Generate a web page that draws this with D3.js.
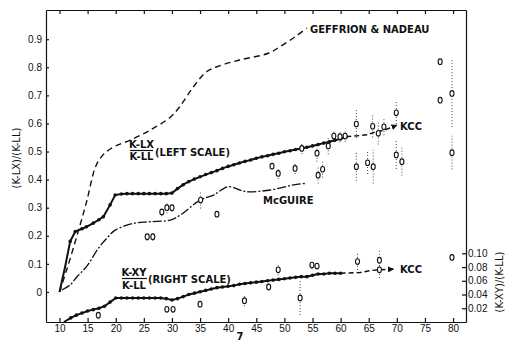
<!DOCTYPE html>
<html>
<head>
<meta charset="utf-8">
<script src="https://cdn.jsdelivr.net/npm/d3@7"></script>
<style>
  body { margin: 0; background: #fff; }
  svg { display: block; font-family: 'DejaVu Sans', sans-serif; }
  .axis path, .axis line { stroke: #111; stroke-width: 1.2; }
  .axis text { font-size: 10px; fill: #111; }
  .lbl { font-size: 10px; fill: #111; font-weight: bold; }
</style>
</head>
<body>
<div id="chart"></div>
<script>
// x ticks (bottom / top), left and right tick values
var xTicks = [10, 15, 20, 25, 30, 35, 40, 45, 50, 55, 60, 65, 70, 75, 80];
var leftTicks = [0, 0.1, 0.2, 0.3, 0.4, 0.5, 0.6, 0.7, 0.8, 0.9];
var rightTicks = [0.02, 0.04, 0.06, 0.08, 0.10];

// Geffrion & Nadeau (left scale, dashed)
var gnX = [10, 11.3, 13.1, 14.8, 16.3, 17.2, 18.4, 20, 22.5, 26, 29.7, 31.4, 33.8, 36.2, 38, 42, 47, 49.2, 52, 54];
var gnY = [0, 0.08, 0.2, 0.32, 0.44, 0.475, 0.5, 0.52, 0.54, 0.575, 0.622, 0.66, 0.73, 0.785, 0.802, 0.826, 0.849, 0.873, 0.91, 0.94];

// KCC (R-LX)/(K-LL), left scale, solid with dots
var kccX = [10, 11, 11.9, 12.8, 14, 14.8, 16, 17, 17.8, 19, 19.9, 21, 22, 23, 24, 25, 26, 27, 28, 29, 30,
  31, 32, 33, 34, 35, 36, 37, 38, 39, 40, 41, 42, 43, 44, 45, 46, 47, 48, 49, 50, 51, 52, 53, 54, 55,
  56, 57, 58, 59, 60, 61];
var kccY = [0, 0.09, 0.18, 0.215, 0.225, 0.232, 0.245, 0.257, 0.268, 0.31, 0.345, 0.349, 0.35, 0.35, 0.35,
  0.35, 0.35, 0.35, 0.35, 0.35, 0.352, 0.368, 0.382, 0.393, 0.402, 0.41, 0.418, 0.425, 0.432, 0.44, 0.447,
  0.453, 0.459, 0.465, 0.47, 0.476, 0.481, 0.485, 0.49, 0.494, 0.499, 0.503, 0.507, 0.511, 0.515, 0.52,
  0.525, 0.53, 0.535, 0.54, 0.545, 0.553];
// KCC dashed continuation
var kccDashX = [61, 63, 64.7, 66, 67.9, 70];
var kccDashY = [0.553, 0.556, 0.56, 0.568, 0.577, 0.594];

// McGuire (left scale)
var mcX = [10.4, 11.9, 13.1, 14.8, 16.9, 18.4, 19.9, 23.1, 26.1, 29.7, 31.5, 35, 37.4, 40, 42.1, 43.3, 47.5, 51.6, 54];
var mcY = [0.007, 0.025, 0.054, 0.09, 0.155, 0.191, 0.22, 0.244, 0.25, 0.256, 0.274, 0.327, 0.345, 0.375, 0.363, 0.357, 0.363, 0.381, 0.387];

// KCC (K-XY)/(K-LL), right scale
var lowX = [10.8, 12, 13, 14, 15, 16, 17, 18, 19, 20, 21, 22, 23, 24, 25, 26, 27, 28, 29, 30, 31, 32, 33,
  34, 35, 36, 37, 38, 39, 40, 41, 42, 43, 44, 45, 46, 47, 48, 49, 50, 51, 52, 53, 54, 55, 56, 57, 58, 59, 60];
var lowY = [0, 0.006, 0.01, 0.013, 0.016, 0.018, 0.02, 0.023, 0.029, 0.035, 0.035, 0.035, 0.035, 0.035,
  0.035, 0.035, 0.035, 0.035, 0.034, 0.032, 0.034, 0.037, 0.04, 0.042, 0.044, 0.046, 0.048, 0.05, 0.051,
  0.052, 0.053, 0.055, 0.056, 0.057, 0.058, 0.059, 0.06, 0.061, 0.062, 0.063, 0.064, 0.065, 0.066, 0.066,
  0.068, 0.07, 0.07, 0.071, 0.071, 0.071];
var lowDashX = [60, 63.5, 65.3, 67, 69.4];
var lowDashY = [0.071, 0.072, 0.075, 0.076, 0.077];

// experimental points, left scale (x, y, half error bar)
var ptX = [25.6, 26.6, 28.2, 29.1, 30, 35.1, 38, 47.8, 48.9, 51.9, 53.1, 55.8, 56, 56.8, 57.8, 58.8, 59.9,
  60.8, 62.8, 62.8, 64.8, 65.7, 65.8, 66.7, 67.7, 69.9, 69.9, 70.9, 77.7, 77.7, 79.8, 79.8];
var ptY = [0.197, 0.197, 0.285, 0.3, 0.3, 0.327, 0.277, 0.448, 0.422, 0.44, 0.511, 0.494, 0.416, 0.437,
  0.52, 0.555, 0.553, 0.555, 0.598, 0.446, 0.46, 0.59, 0.446, 0.565, 0.588, 0.638, 0.488, 0.464, 0.82,
  0.683, 0.707, 0.496];
var ptErr = [0.015, 0.015, 0.015, 0.02, 0.015, 0.03, 0, 0, 0.02, 0.02, 0.02, 0.03, 0.03, 0.03, 0.03, 0.02,
  0.02, 0.02, 0.05, 0.05, 0.04, 0.04, 0.06, 0.04, 0.03, 0.04, 0.05, 0.05, 0, 0, 0.12, 0.06];

// experimental points, right scale
var rpX = [16.9, 29.1, 30.2, 35, 42.9, 47.2, 48.9, 52.8, 54.9, 55.8, 63, 66.9, 66.9, 79.8];
var rpY = [0.01, 0.0185, 0.0185, 0.026, 0.031, 0.051, 0.076, 0.035, 0.083, 0.0815, 0.088, 0.09, 0.076, 0.094];
var rpErr = [0.006, 0, 0, 0, 0.008, 0.005, 0.008, 0.025, 0.006, 0, 0.012, 0.014, 0.012, 0];

var W = 510, H = 343;
var frame = {left: 46, right: 466, top: 10, bottom: 322};

var x = d3.scaleLinear().domain([7.6, 82.3]).range([frame.left, frame.right]);
var yL = d3.scaleLinear().domain([-0.107, 1.004]).range([frame.bottom, frame.top]);
var yR = d3.scaleLinear().domain([0, 0.4543]).range([frame.bottom, frame.top]);

var svg = d3.select('#chart').append('svg')
  .attr('width', W)
  .attr('height', H);

svg.append('rect').attr('width', W).attr('height', H).attr('fill', '#fff');

svg.append('defs').append('marker')
  .attr('id', 'arrow')
  .attr('viewBox', '0 0 10 10')
  .attr('refX', 9).attr('refY', 5)
  .attr('markerWidth', 6).attr('markerHeight', 6)
  .attr('markerUnits', 'userSpaceOnUse')
  .attr('orient', 'auto')
  .append('path').attr('d', 'M0,0L10,5L0,10z').attr('fill', '#111');

// axes
svg.append('g').attr('class', 'axis')
  .attr('transform', 'translate(0,' + frame.bottom + ')')
  .call(d3.axisBottom(x).tickValues(xTicks).tickSize(-4).tickSizeOuter(0).tickPadding(3));
svg.append('g').attr('class', 'axis')
  .attr('transform', 'translate(0,' + frame.top + ')')
  .call(d3.axisTop(x).tickValues(xTicks).tickSize(-4).tickSizeOuter(0).tickFormat(''));
svg.append('g').attr('class', 'axis')
  .attr('transform', 'translate(' + frame.left + ',0)')
  .call(d3.axisLeft(yL).tickValues(leftTicks).tickSize(-3).tickSizeOuter(0).tickPadding(4)
    .tickFormat(function(d) { return d === 0 ? '0' : d3.format('.1f')(d); }));
svg.append('g').attr('class', 'axis')
  .attr('transform', 'translate(' + frame.right + ',0)')
  .call(d3.axisRight(yR).tickValues(rightTicks).tickSize(-4).tickSizeOuter(0).tickPadding(2)
    .tickFormat(d3.format('.2f')));

// axis titles
svg.append('text').attr('class', 'lbl')
  .attr('transform', 'translate(20,158) rotate(-90)')
  .attr('text-anchor', 'middle')
  .style('font-weight', 'normal')
  .text('(K-LX)/(K-LL)');
svg.append('text').attr('class', 'lbl')
  .attr('transform', 'translate(503,282) rotate(-90)')
  .attr('text-anchor', 'middle')
  .style('font-weight', 'normal')
  .text('(K-XY)/(K-LL)');
svg.append('text').attr('class', 'lbl')
  .attr('x', 240).attr('y', 340).attr('text-anchor', 'middle')
  .text('7');

var zip = function(xs, ys) {
  return xs.map(function(v, i) { return [v, ys[i]]; });
};

var lineL = d3.line().x(function(d) { return x(d[0]); }).y(function(d) { return yL(d[1]); });
var lineR = d3.line().x(function(d) { return x(d[0]); }).y(function(d) { return yR(d[1]); });

// error bars
var bars = svg.append('g').attr('stroke', '#444').attr('stroke-width', 1).attr('stroke-dasharray', '1,2');
ptX.forEach(function(v, i) {
  if (ptErr[i] > 0) {
    bars.append('line')
      .attr('x1', x(v)).attr('x2', x(v))
      .attr('y1', yL(ptY[i] - ptErr[i])).attr('y2', yL(ptY[i] + ptErr[i]));
  }
});
rpX.forEach(function(v, i) {
  if (rpErr[i] > 0) {
    bars.append('line')
      .attr('x1', x(v)).attr('x2', x(v))
      .attr('y1', yR(rpY[i] - rpErr[i])).attr('y2', yR(rpY[i] + rpErr[i]));
  }
});

// curves
svg.append('path')
  .attr('d', lineL.curve(d3.curveCatmullRom)(zip(gnX, gnY)))
  .attr('fill', 'none').attr('stroke', '#111').attr('stroke-width', 1.4)
  .attr('stroke-dasharray', '6,4');

svg.append('path')
  .attr('d', lineL.curve(d3.curveCatmullRom)(zip(mcX, mcY)))
  .attr('fill', 'none').attr('stroke', '#111').attr('stroke-width', 1.3)
  .attr('stroke-dasharray', '9,2,2,2');

svg.append('path')
  .attr('d', lineL.curve(d3.curveLinear)(zip(kccX, kccY)))
  .attr('fill', 'none').attr('stroke', '#111').attr('stroke-width', 2);
svg.append('path')
  .attr('d', lineL(zip(kccDashX, kccDashY)))
  .attr('fill', 'none').attr('stroke', '#111').attr('stroke-width', 1.4)
  .attr('stroke-dasharray', '5,3').attr('marker-end', 'url(#arrow)');

svg.append('path')
  .attr('d', lineR(zip(lowX, lowY)))
  .attr('fill', 'none').attr('stroke', '#111').attr('stroke-width', 2);
svg.append('path')
  .attr('d', lineR(zip(lowDashX, lowDashY)))
  .attr('fill', 'none').attr('stroke', '#111').attr('stroke-width', 1.4)
  .attr('stroke-dasharray', '5,3').attr('marker-end', 'url(#arrow)');

// dots on the KCC curves
svg.append('g').selectAll('circle').data(zip(kccX, kccY).slice(2)).enter()
  .append('circle')
  .attr('cx', function(d) { return x(d[0]); })
  .attr('cy', function(d) { return yL(d[1]); })
  .attr('r', 1.8).attr('fill', '#111');
svg.append('g').selectAll('circle').data(zip(lowX, lowY).slice(1)).enter()
  .append('circle')
  .attr('cx', function(d) { return x(d[0]); })
  .attr('cy', function(d) { return yR(d[1]); })
  .attr('r', 1.8).attr('fill', '#111');

// experimental points
svg.append('g').selectAll('ellipse').data(zip(ptX, ptY)).enter()
  .append('ellipse')
  .attr('cx', function(d) { return x(d[0]); })
  .attr('cy', function(d) { return yL(d[1]); })
  .attr('rx', 2).attr('ry', 2.8)
  .attr('fill', '#fff').attr('stroke', '#111').attr('stroke-width', 1.1);
svg.append('g').selectAll('ellipse').data(zip(rpX, rpY)).enter()
  .append('ellipse')
  .attr('cx', function(d) { return x(d[0]); })
  .attr('cy', function(d) { return yR(d[1]); })
  .attr('rx', 2).attr('ry', 2.8)
  .attr('fill', '#fff').attr('stroke', '#111').attr('stroke-width', 1.1);

// labels
var label = function(tx, px, py, anchor) {
  return svg.append('text').attr('class', 'lbl')
    .attr('x', px).attr('y', py)
    .attr('text-anchor', anchor || 'start')
    .text(tx);
};
label('GEFFRION & NADEAU', 310, 33);
label('McGUIRE', 263, 204);
label('KCC', 400, 130);
label('KCC', 400, 273);

label('K-LX', 141.5, 148, 'middle');
label('K-LL', 141.5, 160, 'middle');
svg.append('line').attr('x1', 130).attr('x2', 153).attr('y1', 150.5).attr('y2', 150.5)
  .attr('stroke', '#111').attr('stroke-width', 1.2);
label('(LEFT SCALE)', 155, 156);

label('K-XY', 134, 276, 'middle');
label('K-LL', 134, 289, 'middle');
svg.append('line').attr('x1', 122).attr('x2', 147).attr('y1', 278.5).attr('y2', 278.5)
  .attr('stroke', '#111').attr('stroke-width', 1.2);
label('(RIGHT SCALE)', 148, 283);
</script>
</body>
</html>
